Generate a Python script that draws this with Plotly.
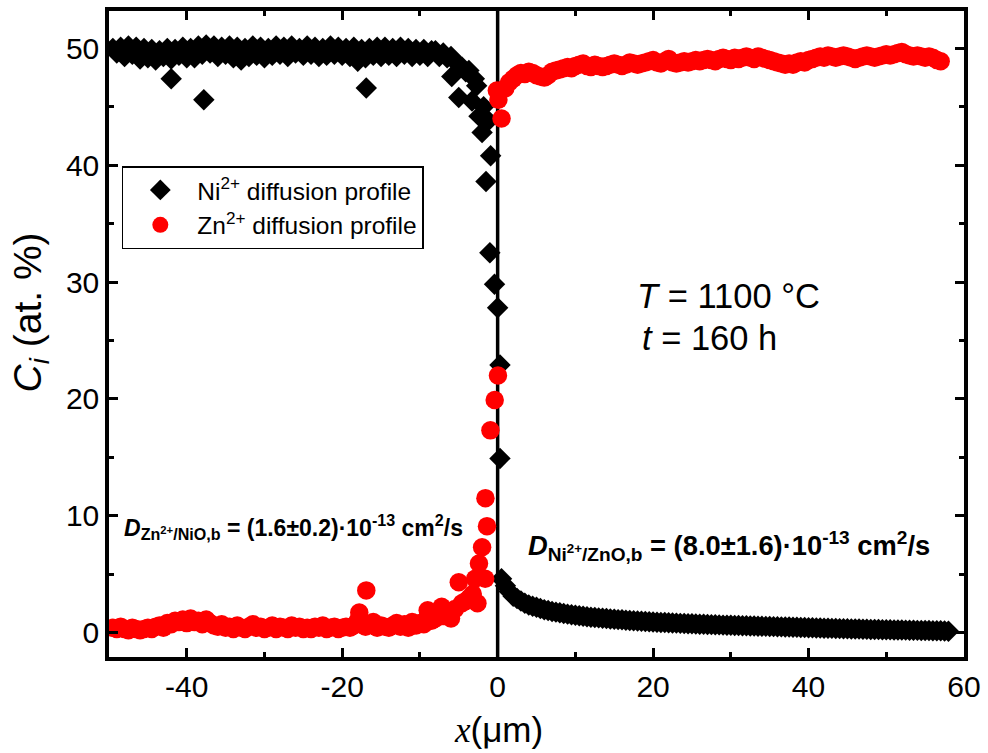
import plotly.graph_objects as go

# ---------------- data ----------------
# Ni2+ profile (black diamonds)
ni_x_left = [-49.5, -49.0, -48.5, -48.0, -47.5, -47.0, -46.5, -46.0, -45.5, -45.0,
             -44.5, -44.0, -43.5, -43.0, -42.5, -42.0, -41.5, -41.0, -40.5, -40.0,
             -39.5, -39.0, -38.5, -38.0, -37.5, -37.0, -36.5, -36.0, -35.5, -35.0,
             -34.5, -34.0, -33.5, -33.0, -32.5, -32.0, -31.5, -31.0, -30.5, -30.0,
             -29.5, -29.0, -28.5, -28.0, -27.5, -27.0, -26.5, -26.0, -25.5, -25.0,
             -24.5, -24.0, -23.5, -23.0, -22.5, -22.0, -21.5, -21.0, -20.5, -20.0,
             -19.5, -19.0, -18.5, -18.0, -17.5, -17.0, -16.5, -16.0, -15.5, -15.0,
             -14.5, -14.0, -13.5, -13.0, -12.5, -12.0, -11.5, -11.0, -10.5, -10.0,
             -9.5, -9.0, -8.5]
ni_y_left = [50.0, 49.6, 50.1, 49.3, 50.2, 49.5, 50.1, 49.1, 50.0, 49.2,
             49.9, 49.0, 49.8, 49.3, 50.0, 49.1, 49.9, 49.4, 50.1, 49.2,
             50.0, 49.2, 50.2, 49.5, 50.3, 49.6, 50.2, 49.3, 50.1, 49.5,
             50.2, 49.2, 50.1, 49.0, 50.0, 49.3, 50.2, 49.4, 50.1, 49.2,
             50.0, 49.4, 50.2, 49.5, 50.1, 49.3, 50.2, 49.6, 50.0, 49.4,
             50.2, 49.5, 50.1, 49.3, 50.0, 49.4, 50.2, 49.5, 50.1, 49.4,
             50.0, 49.3, 50.1, 48.9, 49.9, 49.2, 50.0, 49.4, 50.1, 49.3,
             50.1, 49.4, 50.0, 49.3, 50.1, 49.5, 50.0, 49.3, 49.9, 49.4,
             49.9, 49.3, 49.8]
ni_x_out = [-42.0, -37.8, -16.9]
ni_y_out = [47.4, 45.6, 46.6]
ni_x_mid = [-8.0, -7.5, -7.0, -6.5, -6.0, -5.9, -5.5, -5.0, -4.6, -4.1, -3.7, -3.3, -3.0,
            -2.7, -2.4, -2.0, -1.8, -1.5, -1.2, -0.9, -1.0, -0.4, 0.0, 0.3, 0.3]
ni_y_mid = [49.8, 49.3, 49.6, 49.2, 49.3, 47.6, 48.9, 45.8, 48.4, 48.0, 48.1, 45.5, 47.4,
            46.8, 44.2, 42.8, 45.0, 38.6, 43.8, 40.8, 32.5, 29.8, 27.8, 22.9, 14.9]
ni_x_right = [0.5, 1.0, 1.5, 2.0, 2.5, 3.0, 3.5, 4.0, 4.5, 5.0,
              5.5, 6.0, 6.5, 7.0, 7.5, 8.0, 8.5, 9.0, 9.5, 10.0,
              10.5, 11.0, 11.5, 12.0, 12.5, 13.0, 13.5, 14.0, 14.5, 15.0,
              15.5, 16.0, 16.5, 17.0, 17.5, 18.0, 18.5, 19.0, 19.5, 20.0,
              20.5, 21.0, 21.5, 22.0, 22.5, 23.0, 23.5, 24.0, 24.5, 25.0,
              25.5, 26.0, 26.5, 27.0, 27.5, 28.0, 28.5, 29.0, 29.5, 30.0,
              30.5, 31.0, 31.5, 32.0, 32.5, 33.0, 33.5, 34.0, 34.5, 35.0,
              35.5, 36.0, 36.5, 37.0, 37.5, 38.0, 38.5, 39.0, 39.5, 40.0,
              40.5, 41.0, 41.5, 42.0, 42.5, 43.0, 43.5, 44.0, 44.5, 45.0,
              45.5, 46.0, 46.5, 47.0, 47.5, 48.0, 48.5, 49.0, 49.5, 50.0,
              50.5, 51.0, 51.5, 52.0, 52.5, 53.0, 53.5, 54.0, 54.5, 55.0,
              55.5, 56.0, 56.5, 57.0, 57.5, 58.0]
ni_y_right = [4.6, 4.0, 3.5, 3.1, 2.9, 2.7, 2.5, 2.35, 2.25, 2.15,
              2.05, 1.95, 1.88, 1.8, 1.74, 1.68, 1.62, 1.57, 1.52, 1.47,
              1.43, 1.39, 1.35, 1.31, 1.28, 1.25, 1.22, 1.19, 1.16, 1.13,
              1.1, 1.08, 1.05, 1.03, 1.0, 0.98, 0.96, 0.94, 0.92, 0.9,
              0.88, 0.86, 0.85, 0.83, 0.81, 0.8, 0.78, 0.77, 0.75, 0.74,
              0.72, 0.71, 0.7, 0.68, 0.67, 0.66, 0.65, 0.63, 0.62, 0.61,
              0.6, 0.59, 0.58, 0.57, 0.56, 0.55, 0.54, 0.53, 0.52, 0.51,
              0.5, 0.49, 0.48, 0.47, 0.46, 0.45, 0.44, 0.43, 0.42, 0.41,
              0.4, 0.39, 0.38, 0.37, 0.36, 0.35, 0.34, 0.33, 0.32, 0.31,
              0.3, 0.3, 0.29, 0.28, 0.27, 0.26, 0.26, 0.25, 0.24, 0.23,
              0.23, 0.22, 0.21, 0.21, 0.2, 0.19, 0.19, 0.18, 0.17, 0.17,
              0.16, 0.15, 0.15, 0.14, 0.13, 0.1]

# Zn2+ profile (red circles)
zn_x_left = [-49.5, -49.0, -48.5, -48.0, -47.5, -47.0, -46.5, -46.0, -45.5, -45.0,
             -44.5, -44.0, -43.5, -43.0, -42.5, -42.0, -41.5, -41.0, -40.5, -40.0,
             -39.5, -39.0, -38.5, -38.0, -37.5, -37.0, -36.5, -36.0, -35.5, -35.0,
             -34.5, -34.0, -33.5, -33.0, -32.5, -32.0, -31.5, -31.0, -30.5, -30.0,
             -29.5, -29.0, -28.5, -28.0, -27.5, -27.0, -26.5, -26.0, -25.5, -25.0,
             -24.5, -24.0, -23.5, -23.0, -22.5, -22.0, -21.5, -21.0, -20.5, -20.0,
             -19.5, -19.0, -18.5, -18.0, -17.5, -17.0, -16.5, -16.0, -15.5, -15.0,
             -14.5, -14.0, -13.5, -13.0, -12.5, -12.0, -11.5, -11.0, -10.5, -10.0]
zn_y_left = [0.4, 0.3, 0.5, 0.3, 0.2, 0.4, 0.3, 0.2, 0.3, 0.4,
             0.3, 0.5, 0.6, 0.4, 0.8, 0.7, 1.0, 0.9, 1.1, 0.8,
             1.2, 0.9, 1.0, 0.7, 1.1, 0.8, 0.6, 0.5, 0.7, 0.4,
             0.5, 0.3, 0.6, 0.4, 0.3, 0.5, 0.7, 0.4, 0.5, 0.3,
             0.4, 0.6, 0.3, 0.5, 0.4, 0.3, 0.6, 0.4, 0.5, 0.3,
             0.4, 0.3, 0.5, 0.4, 0.6, 0.3, 0.4, 0.5, 0.3, 0.4,
             0.5, 0.4, 0.6, 1.0, 0.8, 0.5, 0.7, 0.9, 0.4, 0.6,
             0.5, 0.4, 0.6, 0.8, 0.5, 0.7, 0.4, 0.9, 0.6, 0.8]
zn_x_out = [-17.8, -16.9]
zn_y_out = [1.7, 3.6]
zn_x_mid = [-9.5, -9.0, -8.5, -8.0, -7.5, -7.2, -7.0, -6.5, -6.0, -5.5, -5.0, -4.6, -4.1,
            -3.6, -3.2, -2.9, -2.6, -2.4, -2.0, -1.6, -1.57, -1.37, -0.93, -0.38, 0.04]
zn_y_mid = [0.7, 1.9, 1.0, 1.2, 1.5, 2.2, 1.4, 1.8, 1.2, 2.0, 4.3, 2.5, 2.7,
            3.0, 3.3, 4.6, 2.5, 5.9, 7.3, 4.6, 11.5, 9.1, 17.3, 19.9, 22.0]
zn_x_right = [-0.1, 0.1, 0.5,
              1.0, 1.5, 2.0, 2.5, 3.0, 3.5, 4.0, 4.5, 5.0, 5.5,
              6.0, 6.5, 7.0, 7.5, 8.0, 8.5, 9.0, 9.5, 10.0, 10.5,
              11.0, 11.5, 12.0, 12.5, 13.0, 13.5, 14.0, 14.5, 15.0, 15.5,
              16.0, 16.5, 17.0, 17.5, 18.0, 18.5, 19.0, 19.5, 20.0, 20.5,
              21.0, 21.5, 22.0, 22.5, 23.0, 23.5, 24.0, 24.5, 25.0, 25.5,
              26.0, 26.5, 27.0, 27.5, 28.0, 28.5, 29.0, 29.5, 30.0, 30.5,
              31.0, 31.5, 32.0, 32.5, 33.0, 33.5, 34.0, 34.5, 35.0, 35.5,
              36.0, 36.5, 37.0, 37.5, 38.0, 38.5, 39.0, 39.5, 40.0, 40.5,
              41.0, 41.5, 42.0, 42.5, 43.0, 43.5, 44.0, 44.5, 45.0, 45.5,
              46.0, 46.5, 47.0, 47.5, 48.0, 48.5, 49.0, 49.5, 50.0, 50.5,
              51.0, 51.5, 52.0, 52.5, 53.0, 53.5, 54.0, 54.5, 55.0, 55.5,
              56.0, 56.5, 57.0]
zn_y_right = [46.4, 45.6, 44.0,
              46.6, 47.1, 47.4, 47.7, 47.9, 47.8, 48.0, 47.9, 47.7, 47.6,
              47.5, 47.7, 48.0, 48.1, 48.2, 48.3, 48.4, 48.3, 48.5, 48.6,
              48.7, 48.5, 48.4, 48.6, 48.5, 48.4, 48.5, 48.6, 48.7, 48.6,
              48.5, 48.6, 48.8, 48.7, 48.6, 48.7, 48.8, 48.9, 49.0, 48.8,
              48.7, 48.9, 49.1, 48.8, 48.7, 48.8, 48.9, 48.8, 48.9, 49.0,
              48.9, 49.0, 49.1, 49.0, 48.9, 49.1, 49.2, 49.1, 49.0, 49.2,
              49.1, 49.2, 49.3, 49.2, 49.1, 49.3, 49.2, 49.1, 49.0, 48.9,
              48.8, 48.7, 48.6, 48.7, 48.6, 48.8, 48.9, 48.8, 49.0, 49.1,
              49.2, 49.3, 49.2, 49.4, 49.3, 49.2, 49.3, 49.4, 49.3, 49.2,
              49.1, 49.2, 49.3, 49.4, 49.3, 49.2, 49.3, 49.4, 49.5, 49.4,
              49.5, 49.6, 49.7, 49.5, 49.4, 49.3, 49.4, 49.3, 49.2, 49.3,
              49.2, 49.0, 48.9]

ni_x = ni_x_left + ni_x_out + ni_x_mid + ni_x_right
ni_y = ni_y_left + ni_y_out + ni_y_mid + ni_y_right
zn_x = zn_x_left + zn_x_out + zn_x_mid + zn_x_right
zn_y = zn_y_left + zn_y_out + zn_y_mid + zn_y_right

ni_name = "Ni<sup>2+</sup> diffusion profile"
zn_name = "Zn<sup>2+</sup> diffusion profile"

x_tickvals = [-40, -20, 0, 20, 40, 60]
x_ticktext = ["-40", "-20", "0", "20", "40", "60"]
y_tickvals = [0, 10, 20, 30, 40, 50]
y_ticktext = ["0", "10", "20", "30", "40", "50"]

x_range = [-50, 60]
y_range = [-2.1, 53.2]

FONT = "Liberation Sans, Arial, sans-serif"

# ---------------- figure ----------------
fig = go.Figure()
fig.add_trace(go.Scatter(x=ni_x, y=ni_y, mode="markers", name=ni_name,
                         legendgroup="ni",
                         marker=dict(symbol="diamond", size=16.5, color="black",
                                     line=dict(width=0))))
fig.add_trace(go.Scatter(x=zn_x, y=zn_y, mode="markers", name=zn_name,
                         legendgroup="zn",
                         marker=dict(symbol="circle", size=18.5, color="#ff0000",
                                     line=dict(width=0))))

fig.add_vline(x=0, line=dict(color="black", width=3.5), layer="below")

axis_common = dict(
    showline=True, linecolor="black", linewidth=3.5, mirror="ticks",
    ticks="inside", ticklen=9, tickwidth=3, tickcolor="black",
    showgrid=False, zeroline=False,
    tickfont=dict(family=FONT, size=30, color="black"),
)

fig.update_xaxes(range=x_range, tickmode="array", tickvals=x_tickvals, ticktext=x_ticktext,
                 minor=dict(ticks="inside", tick0=0, dtick=10, ticklen=5, tickwidth=3,
                            tickcolor="black", showgrid=False),
                 **axis_common)
fig.update_yaxes(range=y_range, tickmode="array", tickvals=y_tickvals, ticktext=y_ticktext,
                 minor=dict(ticks="inside", tick0=0, dtick=5, ticklen=5, tickwidth=3,
                            tickcolor="black", showgrid=False),
                 **axis_common)

# axis titles as annotations (positioned as in the reference)
fig.add_annotation(x=-0.092, y=0.534, xref="paper", yref="paper",
                   xanchor="center", yanchor="middle", textangle=-90,
                   text="<i>C<sub>i</sub></i> (at. %)", showarrow=False,
                   font=dict(family=FONT, size=39, color="black"))
fig.add_annotation(x=0.4557, y=-0.1123, xref="paper", yref="paper",
                   xanchor="center", yanchor="middle",
                   text="<span style=\"font-family:'Liberation Serif'\"><i>x</i></span>(μm)",
                   showarrow=False, font=dict(family=FONT, size=35, color="black"))

fig.add_annotation(x=17.7, y=28.8, xref="x", yref="y", xanchor="left", yanchor="middle",
                   text="<i>T</i> = 1100 °C", showarrow=False,
                   font=dict(family=FONT, size=34.5, color="black"))
fig.add_annotation(x=18.3, y=25.2, xref="x", yref="y", xanchor="left", yanchor="middle",
                   text="<i>t</i> = 160 h", showarrow=False,
                   font=dict(family=FONT, size=34.5, color="black"))
fig.add_annotation(x=-48.3, y=9.0, xref="x", yref="y", xanchor="left", yanchor="middle",
                   text="<b><i>D</i><sub>Zn<sup>2+</sup>/NiO,b</sub> = (1.6±0.2)·10<sup>-13</sup> cm<sup>2</sup>/s</b>",
                   showarrow=False, font=dict(family=FONT, size=23, color="black"))
fig.add_annotation(x=3.6, y=7.4, xref="x", yref="y", xanchor="left", yanchor="middle",
                   text="<b><i>D</i><sub>Ni<sup>2+</sup>/ZnO,b</sub> = (8.0±1.6)·10<sup>-13</sup> cm<sup>2</sup>/s</b>",
                   showarrow=False, font=dict(family=FONT, size=27.3, color="black"))

fig.update_layout(
    width=988, height=753,
    margin=dict(l=109, r=21, t=7, b=96),
    paper_bgcolor="white", plot_bgcolor="white",
    font=dict(family=FONT, color="black"),
    legend=dict(x=0.015, y=0.76, xanchor="left", yanchor="top",
                bordercolor="black", borderwidth=1.5, bgcolor="white",
                font=dict(family=FONT, size=24.5, color="black"),
                itemwidth=64, tracegroupgap=0),
    showlegend=True,
)

fig.write_html("out.html")
